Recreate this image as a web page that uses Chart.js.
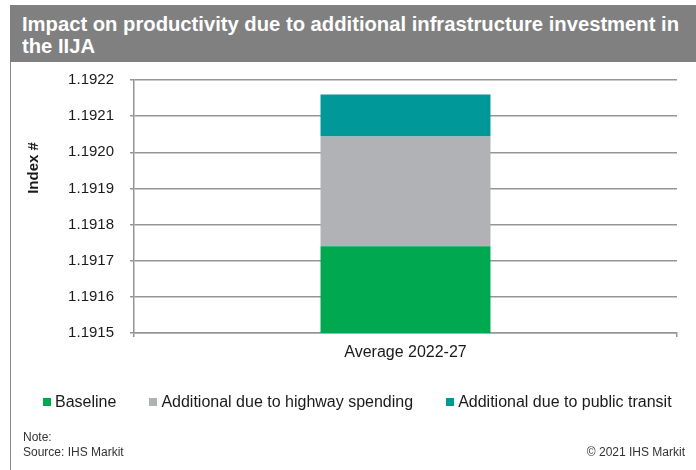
<!DOCTYPE html>
<html>
<head>
<meta charset="utf-8">
<script src="https://cdn.jsdelivr.net/npm/chart.js@4.4.1/dist/chart.umd.min.js"></script>
<style>
  html, body { margin: 0; padding: 0; background: #ffffff; }
  body { width: 696px; height: 470px; position: relative; overflow: hidden; font-family: "Liberation Sans", Arial, sans-serif; }
  #chart { position: absolute; left: 0; top: 0; }
  .band { position: absolute; left: 10px; top: 5px; width: 686px; height: 57px; background: #808080; }
  .frame { position: absolute; left: 10px; top: 62px; width: 1px; height: 408px; background: #8a8a8a; }
  .ttl { position: absolute; left: 22px; color: #ffffff; font-weight: bold; font-size: 20px; line-height: 22px; white-space: nowrap; transform-origin: 0 50%; }
  .ytitle { position: absolute; left: -17px; top: 159px; width: 100px; height: 18px; line-height: 18px; text-align: center;
            font-weight: bold; font-size: 15px; color: #1a1a1a; transform: rotate(-90deg); }
  .legend { position: absolute; left: 43px; top: 393px; height: 18px; display: flex; align-items: center; font-size: 16px; color: #1a1a1a; line-height: 18px; white-space: nowrap; }
  .legend .item { display: flex; align-items: center; margin-right: 33px; }
  .legend .box { width: 8px; height: 8px; margin-right: 4px; }
  .foot { position: absolute; font-size: 12px; line-height: 14px; color: #333333; white-space: nowrap; }
</style>
</head>
<body>
<canvas id="chart" width="696" height="470"></canvas>
<div class="band"></div>
<div class="frame"></div>
<div class="ttl" id="t1" style="top:13px">Impact on productivity due to additional infrastructure investment in</div>
<div class="ttl" id="t2" style="top:35px">the IIJA</div>
<div class="ytitle">Index #</div>
<div class="legend" id="legend"></div>
<div class="foot" style="left:23px; top:430px">Note:</div>
<div class="foot" style="left:23px; top:445px">Source: IHS Markit</div>
<div class="foot" style="right:11px; top:445px">© 2021 IHS Markit</div>
<script>
// Index levels, average 2022-27
const categories = ['Average 2022-27'];
const seriesNames = ['Baseline', 'Additional due to highway spending', 'Additional due to public transit'];
const baselineValues = [1.19174];
const highwayValues = [0.000304];
const transitValues = [0.000116];

// Value axis range and step
const yMin = 1.1915;
const yMax = 1.1922;
const yStep = 0.0001;

const seriesColors = ['#00a94f', '#b1b2b5', '#009899'];
const seriesValues = [baselineValues, highwayValues, transitValues];

// Title: keep the first line within the band width
(function fitTitle() {
  const t1 = document.getElementById('t1');
  const t2 = document.getElementById('t2');
  const w = t1.getBoundingClientRect().width;
  const target = 657;
  const s = Math.min(1.15, Math.max(0.85, target / w));
  t1.style.transform = 'scaleX(' + s + ')';
  t2.style.transform = 'scaleX(' + s + ')';
})();

// Legend built from the series names and colours
const legendEl = document.getElementById('legend');
seriesNames.forEach((name, i) => {
  const item = document.createElement('div');
  item.className = 'item';
  const box = document.createElement('span');
  box.className = 'box';
  box.style.background = seriesColors[i];
  const txt = document.createElement('span');
  txt.textContent = name;
  item.appendChild(box);
  item.appendChild(txt);
  legendEl.appendChild(item);
});

const gridColor = '#959595';
const textColor = '#1a1a1a';

new Chart(document.getElementById('chart'), {
  type: 'bar',
  data: {
    labels: categories,
    datasets: seriesNames.map((name, i) => ({
      label: name,
      data: seriesValues[i],
      backgroundColor: seriesColors[i],
      borderWidth: 0,
      barPercentage: 0.313,
      categoryPercentage: 1.0
    }))
  },
  options: {
    responsive: false,
    animation: false,
    layout: { padding: { left: 10, top: 80, right: 19, bottom: 108 } },
    plugins: {
      legend: { display: false },
      tooltip: { enabled: false },
      title: { display: false }
    },
    scales: {
      x: {
        stacked: true,
        grid: { display: true, drawOnChartArea: false, drawTicks: true, tickLength: 4, color: gridColor, lineWidth: 1.5 },
        border: { display: true, color: gridColor, width: 1.5 },
        ticks: { color: textColor, font: { family: 'Liberation Sans', size: 16 }, padding: 6, maxRotation: 0 },
        afterFit: (scale) => { scale.height = 29; }
      },
      y: {
        stacked: true,
        min: yMin,
        max: yMax,
        grid: { color: gridColor, lineWidth: 1.5, tickLength: 4, drawTicks: true },
        border: { display: true, color: gridColor, width: 1.5 },
        ticks: {
          stepSize: yStep,
          color: textColor,
          font: { family: 'Liberation Sans', size: 15 },
          padding: 16,
          callback: (v) => Number(v).toFixed(4)
        },
        afterFit: (scale) => { scale.width = 124; }
      }
    }
  }
});
</script>
</body>
</html>
